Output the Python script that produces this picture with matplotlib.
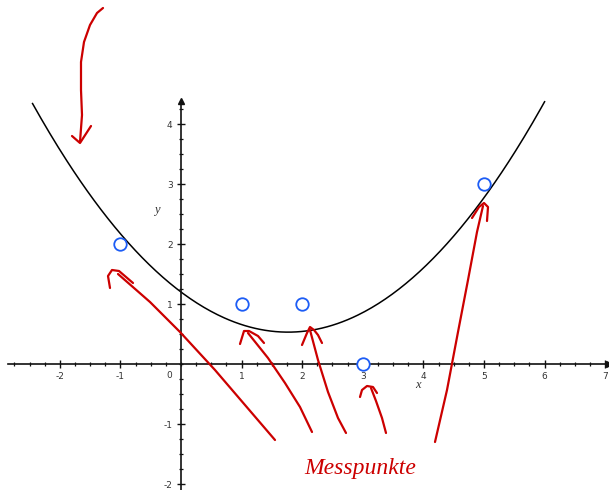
import matplotlib
matplotlib.use('agg')
import matplotlib.pyplot as plt
import matplotlib.transforms as mtransforms
import numpy as np

# measured points
x_pts = [-1, 1, 2, 3, 5]
y_pts = [2, 1, 1, 0, 3]

x_ticks = [-2, -1, 1, 2, 3, 4, 5, 6, 7]
y_ticks = [-2, -1, 1, 2, 3, 4]

# freehand red strokes, in image pixels (origin top-left)
strokes = [
    [(103, 8), (97, 13), (90, 25), (84, 42), (81, 62), (81, 90), (82, 115), (80, 142)],
    [(72, 136), (80, 143), (91, 126)],
    [(110, 288), (108, 276), (112, 270), (119, 271), (133, 283)],
    [(118, 274), (150, 302), (180, 332), (215, 370), (245, 405), (275, 440)],
    [(240, 344), (244, 331), (249, 331), (258, 336), (264, 343)],
    [(248, 333), (268, 358), (285, 383), (300, 407), (312, 432)],
    [(302, 345), (307, 333), (310, 327), (314, 330), (318, 335), (322, 343)],
    [(310, 330), (318, 360), (328, 392), (338, 418), (346, 433)],
    [(360, 397), (362, 390), (367, 386), (373, 387), (377, 393)],
    [(371, 388), (376, 401), (382, 418), (386, 433)],
    [(472, 218), (479, 207), (484, 203), (488, 207), (487, 221)],
    [(483, 206), (477, 232), (468, 280), (458, 332), (447, 390), (435, 442)],
]

fig = plt.figure(figsize=(6.09, 4.90), dpi=100)
ax = fig.add_axes([0, 0, 1, 1])
ax.set_xlim(-2.987, 7.063)
ax.set_ylim(-2.1, 6.067)

for s in ['top', 'right']:
    ax.spines[s].set_visible(False)
ax.spines['left'].set_position(('data', 0))
ax.spines['bottom'].set_position(('data', 0))
ax.spines['left'].set_bounds(-2.1, 4.33)
ax.spines['bottom'].set_bounds(-2.86, 7.0)
for s in ['left', 'bottom']:
    ax.spines[s].set_linewidth(1.2)
    ax.spines[s].set_color('#111111')

ax.plot(7.06, 0, '>', color='#111111', ms=5, clip_on=False)
ax.plot(0, 4.38, '^', color='#111111', ms=5, clip_on=False)

ax.set_xticks(x_ticks)
ax.set_yticks(y_ticks)
ax.set_xticklabels([str(t) for t in x_ticks])
ax.set_yticklabels([str(t) for t in y_ticks])
ax.set_xticks(np.arange(-2.75, 7.0, 0.25), minor=True)
ax.set_yticks(np.arange(-2.0, 4.3, 0.25), minor=True)
ax.tick_params(which='major', direction='inout', length=6, width=1, color='#111111',
               labelsize=6.5, labelcolor='#333333', pad=3)
ax.tick_params(which='minor', direction='inout', length=3, width=0.9, color='#111111')
ax.text(-0.15, -0.12, '0', fontsize=6.5, color='#333333', ha='right', va='top')
ax.text(3.87, -0.4, 'x', fontsize=9, style='italic', family='Liberation Serif', color='#333333')
ax.text(-0.45, 2.52, 'y', fontsize=9, style='italic', family='Liberation Serif', color='#333333')

# least squares parabola through the measured points
coef = np.polyfit(x_pts, y_pts, 2)
xc = np.linspace(-2.45, 6.0, 300)
ax.plot(xc, np.polyval(coef, xc), color='black', lw=1.1)

ax.plot(x_pts, y_pts, 'o', ms=9, mfc='white', mec='#1c5cf5', mew=1.3, zorder=5)

# handwritten annotations
pix = mtransforms.Affine2D().scale(1 / 609, -1 / 490).translate(0, 1) + fig.transFigure
for s in strokes:
    xs, ys = zip(*s)
    ax.plot(xs, ys, color='#cc0000', lw=1.6, transform=pix, solid_capstyle='round',
            solid_joinstyle='round', zorder=6)
ax.text(360, 468, 'Messpunkte', transform=pix, color='#cc0000', fontsize=17,
        family='Liberation Serif', style='italic', ha='center', va='center')

fig.savefig('out.png', dpi=100)
